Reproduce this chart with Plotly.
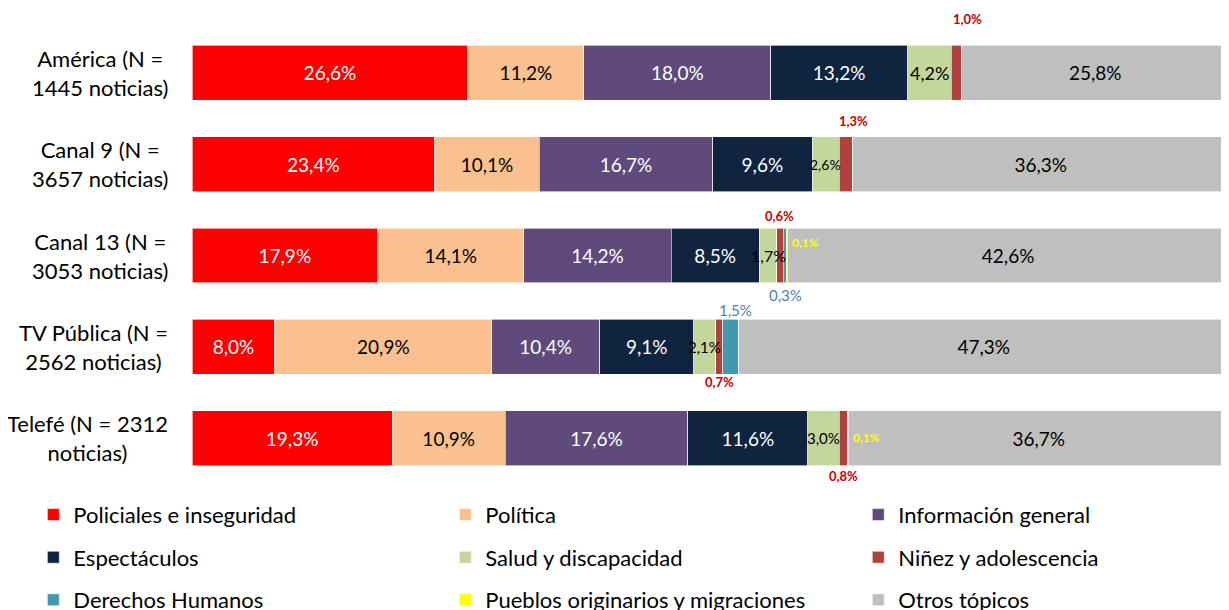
import plotly.graph_objects as go
import numpy as np

channels = ["América (N =<br>1445 noticias)", "Canal 9 (N =<br>3657 noticias)",
            "Canal 13 (N =<br>3053 noticias)", "TV Pública (N =<br>2562 noticias)",
            "Telefé (N = 2312<br>noticias)"]

policiales = [26.6, 23.4, 17.9, 8.0, 19.3]
politica = [11.2, 10.1, 14.1, 20.9, 10.9]
info_general = [18.0, 16.7, 14.2, 10.4, 17.6]
espectaculos = [13.2, 9.6, 8.5, 9.1, 11.6]
salud = [4.2, 2.6, 1.7, 2.1, 3.0]
ninez = [1.0, 1.3, 0.6, 0.7, 0.8]
ddhh = [0.0, 0.0, 0.3, 1.5, 0.0]
pueblos = [0.0, 0.0, 0.1, 0.0, 0.1]
otros = [25.8, 36.3, 42.6, 47.3, 36.7]

# name, values, colour, label colour inside bar, legend column
series = [
    ("Policiales e inseguridad", policiales, "#FF0000", "white", "legend"),
    ("Política", politica, "#FAC090", "black", "legend2"),
    ("Información general", info_general, "#604A7B", "white", "legend3"),
    ("Espectáculos", espectaculos, "#10243F", "white", "legend"),
    ("Salud y discapacidad", salud, "#C3D69B", None, "legend2"),
    ("Niñez y adolescencia", ninez, "#B0413E", None, "legend3"),
    ("Derechos Humanos", ddhh, "#4198AF", None, "legend"),
    ("Pueblos originarios y migraciones", pueblos, "#FFFF00", None, "legend2"),
    ("Otros tópicos", otros, "#BFBFBF", "black", "legend3"),
]

FONT = "Lato"


def pct(v):
    return f"{v:.1f}".replace(".", ",") + "%"


fig = go.Figure()
for name, vals, color, tcolor, leg in series:
    fig.add_trace(go.Bar(
        y=channels, x=vals, name=name, orientation="h",
        marker=dict(color=color, line=dict(color="white", width=0.6)),
        text=[pct(v) for v in vals] if tcolor else None,
        textposition="inside" if tcolor else "none",
        insidetextanchor="middle",
        textfont=dict(color=tcolor or "black", size=19, family=FONT),
        legend=leg, legendgroup=name, hoverinfo="x+name",
    ))

# segment starts for the small labels
stack = np.array([s[1] for s in series])
starts = np.vstack([np.zeros(len(channels)), np.cumsum(stack, axis=0)[:-1]])

annotations = []
salud_size = [18, 14, 16, 15, 15]
for i, ch in enumerate(channels):
    annotations.append(dict(x=starts[4][i] + salud[i] / 2, y=ch, text=pct(salud[i]),
                            showarrow=False, font=dict(size=salud_size[i], color="black", family=FONT)))
# niñez labels (above / below the bar)
ninez_shift = [54, 43, 40, -35, -38]
ninez_x = [11, 8, 0, 0, 0]
for i, ch in enumerate(channels):
    annotations.append(dict(x=starts[5][i] + ninez[i] / 2, y=ch, text=f"<b>{pct(ninez[i])}</b>",
                            showarrow=False, yshift=ninez_shift[i], xshift=ninez_x[i],
                            font=dict(size=13, color="#C00000", family=FONT)))
# derechos humanos
ddhh_shift = {2: (-39, 1), 3: (37, 5)}
for i, (s, dx) in ddhh_shift.items():
    annotations.append(dict(x=starts[6][i] + ddhh[i] / 2, y=channels[i], text=pct(ddhh[i]),
                            showarrow=False, yshift=s, xshift=dx,
                            font=dict(size=15, color="#4F81BD", family=FONT)))
# pueblos originarios
pueblos_shift = {2: 13, 4: 1}
for i, s in pueblos_shift.items():
    annotations.append(dict(x=starts[7][i] + pueblos[i], y=channels[i], text=f"<b>{pct(pueblos[i])}</b>",
                            showarrow=False, yshift=s, xanchor="left", xshift=3,
                            font=dict(size=12, color="#FFFF00", family=FONT)))
# category labels, lines centred
for ch in channels:
    annotations.append(dict(x=0, xref="paper", y=ch, text=ch, showarrow=False, xanchor="right",
                            xshift=-22, align="center", font=dict(size=22, color="black", family=FONT)))

legend_style = dict(orientation="v", xanchor="left", yanchor="top", yref="container", y=0.193,
                    tracegroupgap=11, itemwidth=30, traceorder="grouped",
                    font=dict(size=22, color="black", family=FONT), bgcolor="rgba(0,0,0,0)")

# the page body has an 8px margin, so the figure is a bit smaller than the window
fig.update_layout(
    width=1221, height=602,
    barmode="stack", bargap=0.4,
    plot_bgcolor="white", paper_bgcolor="white",
    margin=dict(l=184, r=0, t=19, b=126),
    font=dict(family=FONT, size=18, color="black"),
    xaxis=dict(range=[0, 100], visible=False, fixedrange=True),
    yaxis=dict(autorange="reversed", showticklabels=False, showgrid=False, zeroline=False),
    legend=dict(legend_style, x=-0.153),
    legend2=dict(legend_style, x=0.2443),
    legend3=dict(legend_style, x=0.6425),
    annotations=annotations,
)

fig.write_html("out.html")
